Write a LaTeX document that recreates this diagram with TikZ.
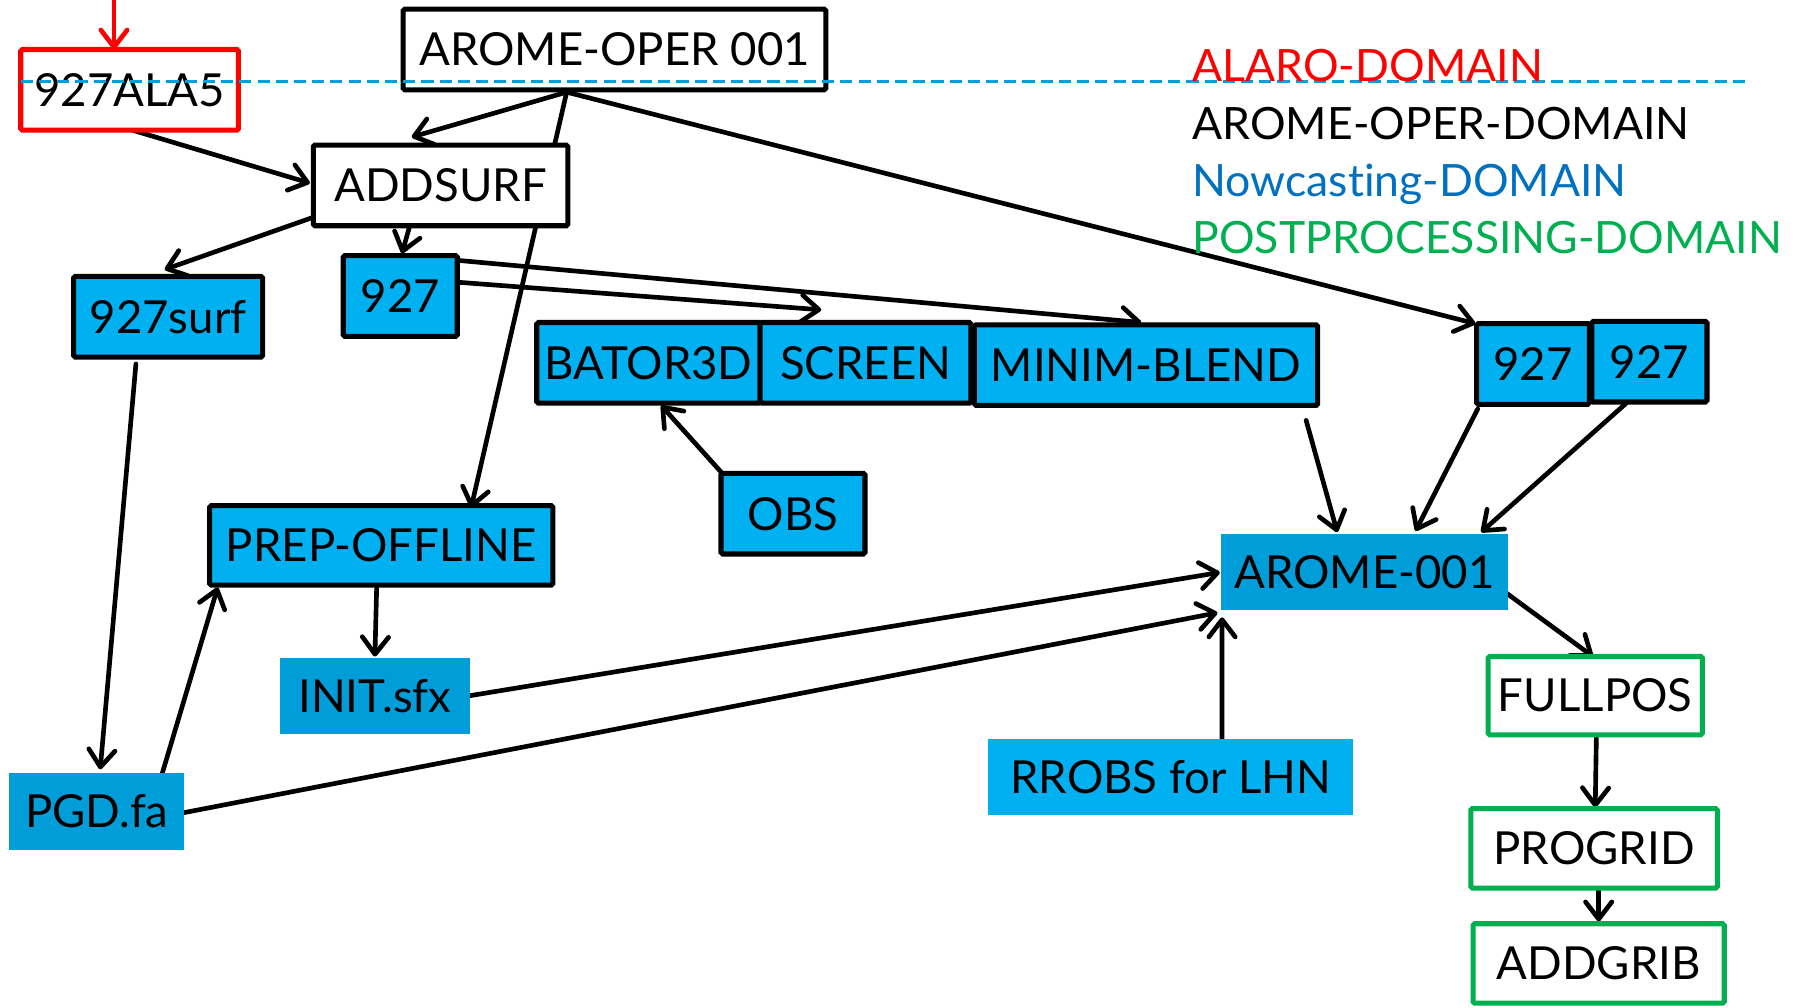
\documentclass[tikz,border=0pt]{standalone}
\usepackage{fontspec}
\setmainfont{Lato}[Ligatures={NoCommon,NoRare}]
\usetikzlibrary{arrows.meta,calc,backgrounds}
\definecolor{blueA}{HTML}{00B0F0}
\definecolor{blueB}{HTML}{009DD9}
\definecolor{dashblue}{HTML}{00A0DC}
\definecolor{legblue}{HTML}{0070C0}
\definecolor{ppgreen}{HTML}{00B050}
\newcommand\mkbox[7]{%
  \pgfmathsetmacro\cxx{(#3+#5)/2}%
  \pgfmathsetmacro\cyy{(#4+#6)/2}%
  \pgfmathsetmacro\ww{(#5-#3)*0.02}%
  \pgfmathsetmacro\hh{(#6-#4)*0.02}%
  \node[#2, minimum width=\ww cm, minimum height=\hh cm] (#1) at (\cxx,\cyy) {#7};}
\tikzset{
  box/.style={rectangle, inner sep=0pt, outer sep=0pt, font=\fontsize{22.5}{26}\selectfont, line width=2.5pt, rounded corners=0.8pt},
  wbox/.style={box, draw=black, fill=white},
  rbox/.style={box, draw=red, fill=white},
  gbox/.style={box, draw=ppgreen, fill=white},
  bbox/.style={box, draw=black, fill=blueA},
  cbox/.style={box, fill=blueB, rounded corners=0pt},
  lbox/.style={box, fill=blueA, rounded corners=0pt},
  conn/.style={line width=2.3pt, line cap=round, -{Straight Barb[length=8.5pt,width=13pt,round]}},
  legend/.style={anchor=base west, inner sep=0pt, font=\fontsize{22}{26}\selectfont}
}
\begin{document}
\begin{tikzpicture}[x=0.02cm, y=-0.02cm]
\useasboundingbox (0,0) rectangle (1568,875);
% nodes
\mkbox{ala}{rbox}{18}{43}{207}{113}{927ALA5}
\mkbox{aop}{wbox}{350}{8}{717}{78}{AROME-OPER 001}
\mkbox{add}{wbox}{272}{126}{493}{196}{ADDSURF}
\mkbox{surf}{bbox}{64}{240}{228}{310}{927surf}
\mkbox{nl}{bbox}{298}{222}{397}{292}{927}
\mkbox{bator}{bbox}{466}{280}{660}{350}{BATOR3D}
\mkbox{screen}{bbox}{660}{280}{843}{350}{SCREEN}
\mkbox{minim}{bbox}{846}{282}{1144}{352}{MINIM-BLEND}
\mkbox{ra}{bbox}{1282}{281}{1380}{351}{927}
\mkbox{rb}{bbox}{1382}{279}{1482}{349}{927}
\mkbox{obs}{bbox}{626}{411}{751}{481}{OBS}
\mkbox{prep}{bbox}{182}{439}{480}{508}{PREP-OFFLINE}
\mkbox{init}{cbox}{243}{571}{408}{637}{INIT.sfx}
\mkbox{pgd}{cbox}{8}{671}{160}{738}{PGD.fa}
\mkbox{aro}{cbox}{1060}{464}{1309}{530}{AROME-001}
\mkbox{rrobs}{lbox}{858}{642}{1175}{708}{RROBS for LHN}
\mkbox{full}{gbox}{1292}{570}{1478}{638}{FULLPOS}
\mkbox{prog}{gbox}{1277}{702}{1491}{771}{PROGRID}
\mkbox{addg}{gbox}{1279}{802}{1497}{871}{ADDGRIB}
\coordinate (redtop) at (99,-4);
% connectors
\begin{pgfonlayer}{background}
\draw[conn, red] (redtop) -- ($(ala.north)+(-13.5,0)$);
\draw[conn] ($(aop.south)+(-41.5,2)$) -- ($(add.north)+(-25,-7)$);
\draw[conn] ($(aop.south)+(-41.5,2)$) -- ($(prep.north)+(78,2)$);
\draw[conn] ($(aop.south)+(-41.5,2)$) -- ($(ra.north west)+(-1,0)$);
\draw[conn] ($(ala.south)+(-11,-4)$) -- ($(add.west)+(-3,-2)$);
\draw[conn] ($(add.west)+(-1,28)$) -- ($(surf.north)+(-3,-6)$);
\draw[conn] ($(add.south)+(-27,1)$) -- ($(nl.north)+(1.5,-2)$);
\draw[conn] ($(nl.east)+(0,-12)$) -- ($(screen.north)+(-38.5,-11)$);
\draw[conn] ($(nl.east)+(0,-31)$) -- ($(minim.north)+(-4,-2)$);
\draw[conn] ($(surf.south)+(-28,6)$) -- ($(pgd.north)+(3,-3)$);
\draw[conn] ($(pgd.north)+(57,0)$) -- ($(prep.south west)+(7,2)$);
\draw[conn] ($(prep.south)+(-4,3)$) -- ($(init.north)+(0,-1)$);
\draw[conn] ($(obs.north west)+(2,1)$) -- ($(bator.south)+(11,2)$);
\draw[conn] ($(init.east)+(0,0)$) -- ($(aro.west)+(-1,0)$);
\draw[conn] ($(pgd.east)+(0,1)$) -- ($(aro.south west)+(-3,2)$);
\draw[conn] ($(rrobs.north)+(44.5,0)$) -- ($(aro.south west)+(1,6)$);
\draw[conn] ($(minim.south east)+(-10,13)$) -- ($(aro.north west)+(101,-2)$);
\draw[conn] ($(ra.south west)+(1,4)$) -- ($(aro.north)+(44.5,-3)$);
\draw[conn] ($(rb.south west)+(30,1)$) -- ($(aro.north east)+(-23,-2)$);
\draw[conn] ($(aro.east)+(-1,18)$) -- ($(full.north)+(-2,0)$);
\draw[conn] ($(full.south)+(1,0)$) -- ($(prog.north)+(1,-1)$);
\draw[conn] ($(prog.south)+(4,-1)$) -- ($(addg.north)+(0,-2)$);
\end{pgfonlayer}
% dashed separator
\draw[dashblue, line width=1.3pt, dash pattern=on 6pt off 3pt] (18,71) -- (1518,71);
% legend
\node[legend, red] (l1) at (1035,71) {ALARO-DOMAIN};
\node[legend, black] (l2) at (1035,121) {AROME-OPER-DOMAIN};
\node[legend, legblue] (l3) at (1035,171) {Nowcasting-DOMAIN};
\node[legend, ppgreen] (l4) at (1035,220) {POSTPROCESSING-DOMAIN};
\end{tikzpicture}
\end{document}
